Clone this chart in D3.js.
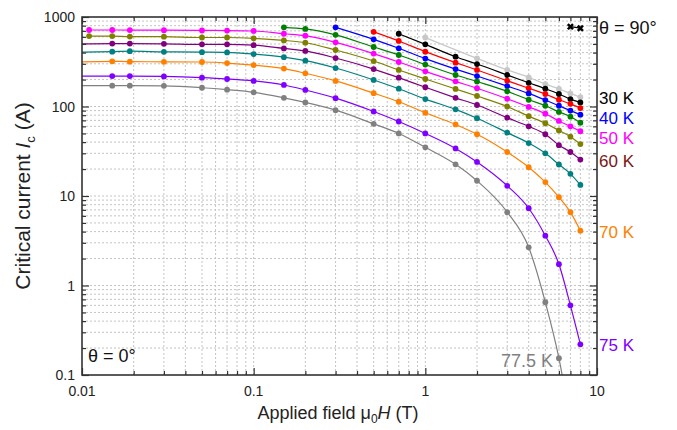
<!DOCTYPE html>
<html>
<head>
<meta charset="utf-8">
<script src="https://cdn.jsdelivr.net/npm/d3@7"></script>
<style>
  body { margin: 0; background: #fff; }
  svg { font-family: "Liberation Sans", Arial, sans-serif; }
</style>
</head>
<body>
<div id="chart"></div>
<script>
// field values (T), shared by every curve; null = no point at that field
const fields = [0.009, 0.011, 0.015, 0.019, 0.03, 0.05, 0.07, 0.1, 0.15, 0.2, 0.3, 0.5, 0.7, 1, 1.5, 2, 3, 4, 5, 6, 7, 8];
const _ = null;

const ic20   = [_, _, _, _, _, _, _, _, _, _, _, _, _, 590, _, 345, 256, 212, 178, 157, 140, 127];
const ic30   = [_, _, _, _, _, _, _, _, _, _, _, _, 650, 495, 360, 298, 225, 184, 158, 138, 121, 111];
const ic35   = [_, _, _, _, _, _, _, _, _, _, _, 683, 540, 410, 309, 256, 194, 160, 138, 119, 107, 96];
const ic40   = [_, _, _, _, _, _, _, _, _, _, 767, 563, 447, 343, 262, 219, 169, 140, 118, 102, 90, 81];
const ic45   = [_, _, _, _, _, _, _, _, 767, 735, 632, 462, 376, 294, 225, 190, 148, 119, 102, 87, 77, 66];
const ic50   = [_, 716, 716, 714, 712, 708, 706, 698, 650, 618, 521, 390, 314, 247, 191, 160, 122, 99, 83, 69, 60, 53];
const ic55   = [_, 612, 612, 605, 603, 590, 590, 578, 548, 516, 428, 322, 256, 203, 157, 131, 100, 78, 65, 54, 46, 38];
const ic60   = [500, _, 505, 505, 502, 495, 495, 485, 446, 418, 348, 262, 210, 164, 125, 104, 75, 60, 49, 37, 31, 25.5];
const ic65   = [403, _, 410, 415, 408, 405, 402, 385, 356, 325, 269, 198, 158, 121, 93, 74, 51, 39, 30, 22.5, 17.7, 13.3];
const ic70   = [314, _, 320, 317, 316, 314, 306, 290, 265, 235, 193, 141, 113, 85, 63, 49, 31, 21, 14.3, 9.7, 6.6, 4.1];
const ic75   = [219, _, 219, 219, 217, 210, 203, 193, 174, 153, 124, 88, 68, 50, 34, 24, 13, 7.3, 3.6, 1.73, 0.60, 0.22];
const ic77_5 = [171, _, 171, 171, 170, 162, 154, 144, 125, 111, 91, 64, 50, 35, 22.6, 14.8, 6.6, 2.67, 0.65, 0.154, 0.03, _];

const series = [
  { values: ic20,   color: "#c8c8c8" },
  { values: ic30,   color: "#000000" },
  { values: ic35,   color: "#ff0000" },
  { values: ic40,   color: "#0000ff" },
  { values: ic45,   color: "#008000" },
  { values: ic50,   color: "#ff00ff" },
  { values: ic55,   color: "#808000" },
  { values: ic60,   color: "#800080" },
  { values: ic65,   color: "#008080" },
  { values: ic70,   color: "#ff8000" },
  { values: ic75,   color: "#8000ff" },
  { values: ic77_5, color: "#808080" }
];

// theta = 90 deg symbol pair, top right
const theta90Fields = [7, 8];
const theta90Values = [780, 750];

const xMajor = [0.01, 0.1, 1, 10];
const yMajor = [0.1, 1, 10, 100, 1000];

const tempLabels = [
  { text: "30 K", color: "#000000", y: 104 },
  { text: "40 K", color: "#0000ff", y: 124 },
  { text: "50 K", color: "#ff00ff", y: 144 },
  { text: "60 K", color: "#7b1515", y: 167 },
  { text: "70 K", color: "#ff8000", y: 238 },
  { text: "75 K", color: "#8000ff", y: 351 }
];

const width = 677, height = 430;
const m = { left: 82, right: 597, top: 17, bottom: 375 };

const svg = d3.select("#chart").append("svg")
    .attr("width", width)
    .attr("height", height);

const x = d3.scaleLog().domain([0.01, 10]).range([m.left, m.right]);
const y = d3.scaleLog().domain([0.1, 1000]).range([m.bottom, m.top]);

svg.append("clipPath").attr("id", "plot")
  .append("rect")
    .attr("x", m.left).attr("y", m.top)
    .attr("width", m.right - m.left).attr("height", m.bottom - m.top);

// dashed grid on every major and minor tick
let grid = svg.append("g").attr("stroke", "#c4c4c4").attr("stroke-width", 1).attr("stroke-dasharray", "2,2");
grid.selectAll(".gx").data(x.ticks().filter(d => d > 0.01 && d < 10)).enter()
  .append("line")
    .attr("x1", d => x(d)).attr("x2", d => x(d))
    .attr("y1", m.top).attr("y2", m.bottom);
grid.selectAll(".gy").data(y.ticks().filter(d => d > 0.1 && d < 1000)).enter()
  .append("line")
    .attr("x1", m.left).attr("x2", m.right)
    .attr("y1", d => y(d)).attr("y2", d => y(d));

// curves
let plot = svg.append("g").attr("clip-path", "url(#plot)");
let line = d3.line()
    .x(d => x(d[0]))
    .y(d => y(d[1]))
    .curve(d3.curveMonotoneX);

series.forEach(s => {
  let pts = fields.map((f, i) => [f, s.values[i]]).filter(d => d[1] != null);
  plot.append("path")
      .datum(pts)
      .attr("d", line)
      .attr("fill", "none")
      .attr("stroke", s.color)
      .attr("stroke-width", 1.2);
  plot.selectAll(null)
      .data(pts)
      .enter()
      .append("circle")
      .attr("cx", d => x(d[0]))
      .attr("cy", d => y(d[1]))
      .attr("r", 2.9)
      .attr("fill", s.color);
});

// theta = 90 symbols
let t90 = theta90Fields.map((f, i) => [f, theta90Values[i]]);
svg.append("path")
    .datum(t90)
    .attr("d", d3.line().x(d => x(d[0])).y(d => y(d[1])))
    .attr("stroke", "#000").attr("stroke-width", 1.3).attr("fill", "none");
svg.selectAll(".cross")
    .data(t90)
    .enter()
    .append("path")
    .attr("transform", d => `translate(${x(d[0])},${y(d[1])}) rotate(45)`)
    .attr("d", d3.symbol(d3.symbolCross, 30))
    .attr("fill", "#000");

// frame and inward ticks on all four sides
let axisColor = "#333";
let xMinor = x.ticks().filter(d => !xMajor.includes(d));
let yMinor = y.ticks().filter(d => !yMajor.includes(d));

function tickSet(gen, vals, size) {
  return gen.tickValues(vals).tickSize(size).tickFormat("");
}
svg.append("g").attr("transform", `translate(0,${m.bottom})`)
    .call(tickSet(d3.axisBottom(x), xMinor, -4));
svg.append("g").attr("transform", `translate(0,${m.bottom})`)
    .call(tickSet(d3.axisBottom(x), xMajor, -7));
svg.append("g").attr("transform", `translate(0,${m.top})`)
    .call(tickSet(d3.axisTop(x), xMinor, -4));
svg.append("g").attr("transform", `translate(0,${m.top})`)
    .call(tickSet(d3.axisTop(x), xMajor, -7));
svg.append("g").attr("transform", `translate(${m.left},0)`)
    .call(tickSet(d3.axisLeft(y), yMinor, -4));
svg.append("g").attr("transform", `translate(${m.left},0)`)
    .call(tickSet(d3.axisLeft(y), yMajor, -7));
svg.append("g").attr("transform", `translate(${m.right},0)`)
    .call(tickSet(d3.axisRight(y), yMinor, -4));
svg.append("g").attr("transform", `translate(${m.right},0)`)
    .call(tickSet(d3.axisRight(y), yMajor, -7));
svg.selectAll(".domain").remove();
svg.selectAll(".tick line").attr("stroke", axisColor).attr("stroke-width", 1.2);

svg.append("rect")
    .attr("x", m.left).attr("y", m.top)
    .attr("width", m.right - m.left).attr("height", m.bottom - m.top)
    .attr("fill", "none")
    .attr("stroke", axisColor)
    .attr("stroke-width", 1.6);

// tick labels
svg.selectAll(".xl")
    .data(xMajor)
    .enter()
    .append("text")
    .attr("x", d => x(d))
    .attr("y", 396)
    .attr("text-anchor", "middle")
    .attr("font-size", "14px")
    .attr("fill", "#222")
    .text(d => d3.format("~g")(d));
svg.selectAll(".yl")
    .data(yMajor)
    .enter()
    .append("text")
    .attr("x", 75)
    .attr("y", d => y(d) + 5)
    .attr("text-anchor", "end")
    .attr("font-size", "14px")
    .attr("fill", "#222")
    .text(d => d3.format("~g")(d));

// axis titles
let xt = svg.append("text")
    .attr("x", 338)
    .attr("y", 419)
    .attr("text-anchor", "middle")
    .attr("font-size", "18px")
    .attr("fill", "#222");
xt.append("tspan").text("Applied field \u03bc");
xt.append("tspan").attr("font-size", "12px").attr("dy", 4).text("0");
xt.append("tspan").attr("font-style", "italic").attr("dy", -4).text("H");
xt.append("tspan").text(" (T)");

let yt = svg.append("text")
    .attr("transform", "translate(30,196) rotate(-90)")
    .attr("text-anchor", "middle")
    .attr("font-size", "21px")
    .attr("fill", "#222");
yt.append("tspan").text("Critical current ");
yt.append("tspan").attr("font-style", "italic").text("I");
yt.append("tspan").attr("font-size", "13px").attr("dy", 5).text("c");
yt.append("tspan").attr("dy", -5).text(" (A)");

// annotations
svg.append("text")
    .attr("x", 599).attr("y", 34)
    .attr("font-size", "18px").attr("fill", "#111")
    .text("\u03b8 = 90\u00b0");
svg.append("text")
    .attr("x", 88).attr("y", 362)
    .attr("font-size", "18px").attr("fill", "#111")
    .text("\u03b8 = 0\u00b0");
svg.append("text")
    .attr("x", 553).attr("y", 367)
    .attr("text-anchor", "end")
    .attr("font-size", "18px").attr("fill", "#808080")
    .text("77.5 K");
svg.selectAll(".tl")
    .data(tempLabels)
    .enter()
    .append("text")
    .attr("x", 599)
    .attr("y", d => d.y)
    .attr("font-size", "17px")
    .attr("fill", d => d.color)
    .text(d => d.text);
</script>
</body>
</html>
